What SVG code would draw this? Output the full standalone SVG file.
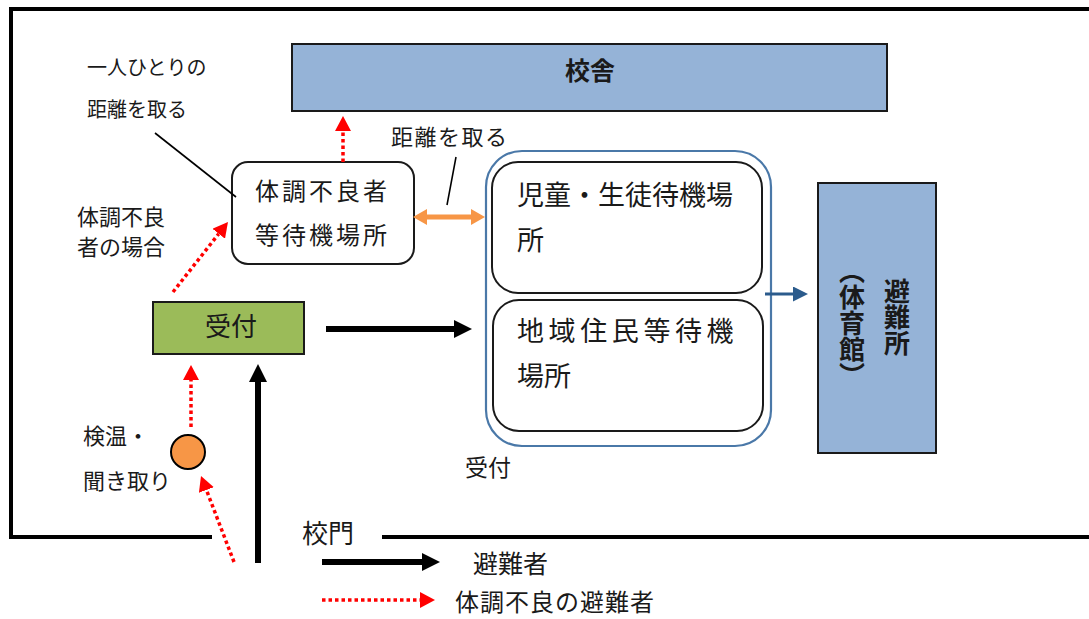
<svg xmlns="http://www.w3.org/2000/svg" width="1089" height="619" viewBox="0 0 1089 619">
<style>
text{font-family:"Noto Sans CJK JP","Noto Sans",sans-serif;fill:#1a1a1a}
.box{stroke:#1a1a1a;stroke-width:2}
.blue{fill:#95B3D7}
.node{fill:#fff;stroke:#1a1a1a;stroke-width:2}
.dot{stroke:#ff0000;stroke-width:3.5;stroke-dasharray:3.5 3;fill:none}
.blk{stroke:#000;stroke-width:6;fill:none}
.thin{stroke:#000;stroke-width:1.6;fill:none}
</style>
<defs>
<marker id="redHead" markerUnits="userSpaceOnUse" markerWidth="15" markerHeight="16" viewBox="0 0 15 16" refX="0" refY="8" orient="auto"><path d="M0,0 L15,8 L0,16z" fill="#ff0000"/></marker>
<marker id="blackHead" markerUnits="userSpaceOnUse" markerWidth="18" markerHeight="18" viewBox="0 0 18 18" refX="0" refY="9" orient="auto"><path d="M0,0 L18,9 L0,18z" fill="#000"/></marker>
<marker id="blueHead" markerUnits="userSpaceOnUse" markerWidth="15" markerHeight="15" viewBox="0 0 15 15" refX="0" refY="7.5" orient="auto"><path d="M0,0 L15,7.5 L0,15z" fill="#2B5B8C"/></marker>
<marker id="orangeHead" markerUnits="userSpaceOnUse" markerWidth="14" markerHeight="16" viewBox="0 0 14 16" refX="0" refY="8" orient="auto-start-reverse"><path d="M0,0 L14,8 L0,16z" fill="#F79646"/></marker>
</defs>
<rect width="1089" height="619" fill="#fff"/>
<g id="frame">
<path d="M1089,9 H11 V537 H212 M382,537 H1089" stroke="#000" stroke-width="4" fill="none"/>
</g>
<g id="kousha">
<rect x="292" y="44" width="595" height="67" class="box blue"/>
<text x="590" y="80" font-size="25" font-weight="bold" text-anchor="middle">校舎</text>
</g>
<g id="hinanjo">
<rect x="818" y="183" width="118" height="270" class="box blue"/>
<text x="897" y="278" font-size="26" font-weight="bold" writing-mode="tb" style="writing-mode:vertical-rl">避難所</text>
<text x="852" y="258" font-size="26" font-weight="bold" writing-mode="tb" style="writing-mode:vertical-rl">（体育館）</text>
</g>
<g id="furyo">
<rect x="232" y="162" width="182" height="102" rx="16" class="node"/>
<text x="255" y="200" font-size="24" letter-spacing="3">体調不良者</text>
<text x="255" y="244" font-size="24" letter-spacing="3">等待機場所</text>
</g>
<g id="uketsuke-group">
<rect x="486" y="151" width="285" height="295" rx="36" fill="none" stroke="#4A78A8" stroke-width="2.2"/>
<text x="465" y="476" font-size="23">受付</text>
</g>
<g id="jido">
<rect x="492" y="162" width="270" height="131" rx="26" class="node"/>
<text x="517" y="205" font-size="27">児童・生徒待機場</text>
<text x="517" y="250" font-size="27">所</text>
</g>
<g id="chiiki">
<rect x="493" y="300" width="270" height="131" rx="26" class="node"/>
<text x="517" y="341" font-size="27" letter-spacing="4.6">地域住民等待機</text>
<text x="517" y="386" font-size="27">場所</text>
</g>
<g id="uketsuke">
<rect x="153" y="302" width="151" height="52" fill="#9BBB59" class="box"/>
<text x="231" y="336" font-size="26" text-anchor="middle">受付</text>
</g>
<g id="kenon">
<circle cx="188" cy="452" r="17" fill="#F79646" stroke="#000" stroke-width="2"/>
<text x="83" y="444" font-size="22">検温・</text>
<text x="83" y="489" font-size="22">聞き取り</text>
</g>
<g id="labels">
<text x="87" y="75" font-size="20">一人ひとりの</text>
<text x="87" y="117" font-size="20">距離を取る</text>
<text x="391" y="145" font-size="22" letter-spacing="1.5">距離を取る</text>
<text x="77" y="225" font-size="22">体調不良</text>
<text x="77" y="255" font-size="22">者の場合</text>
<text x="302" y="543" font-size="26">校門</text>
<text x="473" y="573" font-size="25">避難者</text>
<text x="455" y="611" font-size="24" letter-spacing="1">体調不良の避難者</text>
</g>
<g id="connectors">
<line x1="155" y1="133" x2="236" y2="197" class="thin"/>
<line x1="456" y1="157" x2="447" y2="205" class="thin"/>
<line x1="343" y1="162" x2="343" y2="131" class="dot" marker-end="url(#redHead)"/>
<line x1="173" y1="292" x2="218.7" y2="233.8" class="dot" marker-end="url(#redHead)"/>
<line x1="191" y1="427" x2="191" y2="380" class="dot" marker-end="url(#redHead)"/>
<line x1="234" y1="562" x2="206.4" y2="490" class="dot" marker-end="url(#redHead)"/>
<line x1="258" y1="563" x2="258" y2="382" class="blk" marker-end="url(#blackHead)"/>
<line x1="326" y1="329" x2="454" y2="329" class="blk" marker-end="url(#blackHead)"/>
<line x1="765" y1="294" x2="793" y2="294" stroke="#2B5B8C" stroke-width="3" marker-end="url(#blueHead)"/>
<line x1="427" y1="217" x2="471" y2="217" stroke="#F79646" stroke-width="5" marker-start="url(#orangeHead)" marker-end="url(#orangeHead)"/>
<line x1="322" y1="562" x2="422" y2="562" class="blk" marker-end="url(#blackHead)"/>
<line x1="322" y1="600" x2="420" y2="600" class="dot" marker-end="url(#redHead)"/>
</g>
</svg>
